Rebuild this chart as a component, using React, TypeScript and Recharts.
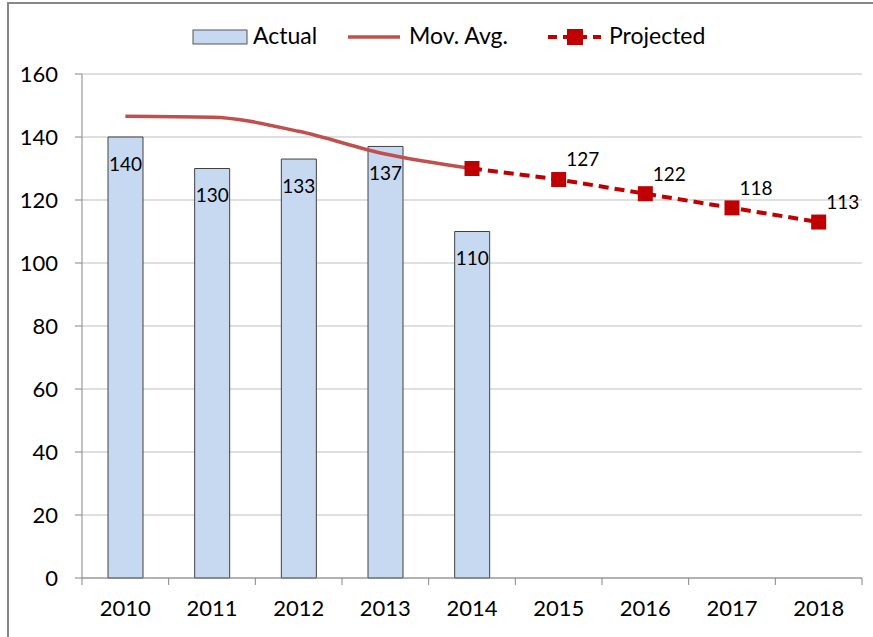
import React from "react";
import {
  ComposedChart,
  Bar,
  Line,
  XAxis,
  YAxis,
  CartesianGrid,
  LabelList,
  Legend,
} from "recharts";

const years = ["2010", "2011", "2012", "2013", "2014", "2015", "2016", "2017", "2018"];
const actual: (number | null)[] = [140, 130, 133, 137, 110, null, null, null, null];
const movAvg: (number | null)[] = [146.6, 146.3, 141.8, 134.6, 130, null, null, null, null];
const projected: (number | null)[] = [null, null, null, null, 130, 126.5, 122, 117.5, 113];
const projectedLabels: (string | null)[] = [null, null, null, null, null, "127", "122", "118", "113"];
const yTicks = [0, 20, 40, 60, 80, 100, 120, 140, 160];

const data = years.map((y, i) => ({
  year: y,
  actual: actual[i],
  movAvg: movAvg[i],
  projected: projected[i],
  projLabel: projectedLabels[i],
}));

const FONT = "Lato, 'Open Sans', sans-serif";
const X_TICK_SIZE = 0;
const X_TICK_MARGIN = 32;

const XTick = (props: any) => {
  const { x, y, payload, index } = props;
  const axisY = y - X_TICK_SIZE - X_TICK_MARGIN;
  const off = payload.offset || 0;
  return (
    <g>
      <line x1={x - off} x2={x - off} y1={axisY} y2={axisY + 7} stroke="#868686" strokeWidth={1} />
      {index === years.length - 1 && (
        <line x1={x + off} x2={x + off} y1={axisY} y2={axisY + 7} stroke="#868686" strokeWidth={1} />
      )}
      <text x={x} y={y} textAnchor="middle" dominantBaseline="middle" fontFamily={FONT} fontSize={22} fill="#000">
        {payload.value}
      </text>
    </g>
  );
};

const BarLabel = (props: any) => {
  const { x, y, width, value } = props;
  if (value == null) return null;
  return (
    <text x={x + width / 2} y={y + 29} textAnchor="middle" dominantBaseline="middle" fontFamily={FONT} fontSize={19} fill="#000">
      {value}
    </text>
  );
};

const ProjLabel = (props: any) => {
  const { x, y, index } = props;
  const t = projectedLabels[index];
  if (t == null) return null;
  return (
    <text x={x + 24} y={y - 18} textAnchor="middle" dominantBaseline="middle" fontFamily={FONT} fontSize={19} fill="#000">
      {t}
    </text>
  );
};

const SquareDot = (props: any) => {
  const { cx, cy, value } = props;
  if (value == null || cx == null || cy == null) return null;
  return <rect x={cx - 7.5} y={cy - 7.5} width={15} height={15} fill="#C00000" />;
};

const LegendContent = () => (
  <div style={{ position: "relative", height: 30 }}>
    <svg width={873} height={34} style={{ position: "absolute", left: 0, top: 0 }}>
      <rect x={193} y={10} width={54} height={14} fill="#C6D9F1" stroke="#555" strokeWidth={1} />
      <text x={253} y={18} dominantBaseline="middle" fontFamily={FONT} fontSize={23}>Actual</text>
      <line x1={348} x2={400} y1={17} y2={17} stroke="#C0504D" strokeWidth={3.5} />
      <text x={409} y={18} dominantBaseline="middle" fontFamily={FONT} fontSize={23}>Mov. Avg.</text>
      <line x1={548} x2={601} y1={17} y2={17} stroke="#C00000" strokeWidth={4} strokeDasharray="9 6" />
      <rect x={567} y={9} width={16} height={16} fill="#C00000" />
      <text x={609} y={18} dominantBaseline="middle" fontFamily={FONT} fontSize={23}>Projected</text>
    </svg>
  </div>
);

export default function App() {
  return (
    <div style={{ position: "absolute", left: 0, top: 0, width: 873, height: 637, overflow: "hidden", background: "#fff" }}>
      <div
        style={{
          position: "absolute",
          left: 7,
          top: 2,
          width: 900,
          height: 700,
          border: "2px solid #878787",
          boxSizing: "border-box",
        }}
      />
      <div style={{ position: "absolute", left: 0, top: 0 }}>
        <ComposedChart
          width={873}
          height={637}
          data={data}
          margin={{ top: 14, right: 11, bottom: 19, left: 12 }}
          barSize={35}
        >
          <CartesianGrid horizontal vertical={false} stroke="#BFBFBF" strokeWidth={1} />
          <Legend verticalAlign="top" align="left" height={60} content={<LegendContent />} wrapperStyle={{ left: 0, top: 20, width: 873 }} />
          <XAxis
            dataKey="year"
            height={40}
            tickLine={false}
            tickSize={X_TICK_SIZE}
            tickMargin={X_TICK_MARGIN}
            axisLine={{ stroke: "#868686" }}
            tick={<XTick />}
            interval={0}
          />
          <YAxis
            width={70}
            domain={[0, 160]}
            ticks={yTicks}
            interval={0}
            tickSize={7}
            tickMargin={17}
            tickLine={{ stroke: "#868686" }}
            axisLine={{ stroke: "#868686" }}
            tick={{ fontFamily: FONT, fontSize: 22, fill: "#000" }}
          />
          <Bar dataKey="actual" fill="#C6D9F1" stroke="#404040" strokeWidth={1} isAnimationActive={false}>
            <LabelList dataKey="actual" content={<BarLabel />} />
          </Bar>
          <Line
            dataKey="movAvg"
            type="monotone"
            stroke="#C0504D"
            strokeWidth={3.5}
            dot={false}
            connectNulls={false}
            isAnimationActive={false}
          />
          <Line
            dataKey="projected"
            type="linear"
            stroke="#C00000"
            strokeWidth={4}
            strokeDasharray="10 6"
            dot={<SquareDot />}
            activeDot={false}
            isAnimationActive={false}
          >
            <LabelList dataKey="projected" content={<ProjLabel />} />
          </Line>
        </ComposedChart>
      </div>
    </div>
  );
}
